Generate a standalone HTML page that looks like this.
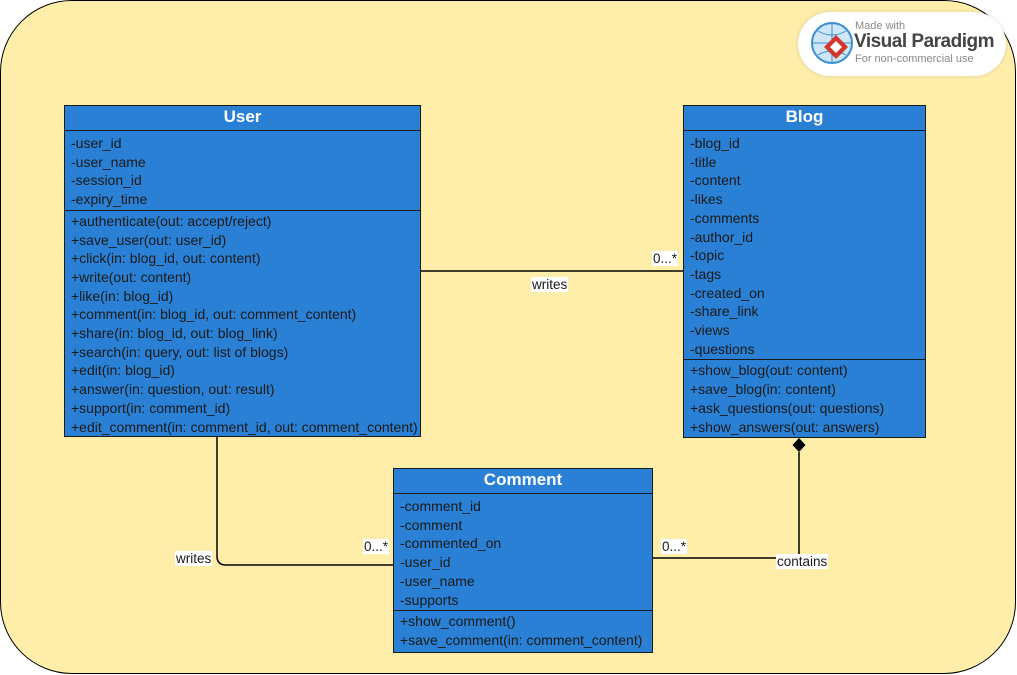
<!DOCTYPE html>
<html><head><meta charset="utf-8"><style>
*{margin:0;padding:0;box-sizing:border-box}
body{width:1017px;height:675px;background:#fff;position:relative;overflow:hidden;font-family:"Liberation Sans",Arial,sans-serif}
.bg{position:absolute;left:0;top:0;width:1016px;height:674px;background:#FFEEAA;border:1px solid #000;border-radius:72px}
.cls{position:absolute;background:#2A80D5;border:1px solid #1a1a1a;color:#1a1a1a;font-size:14px}
.cls .t{height:25px;border-bottom:1px solid #1a1a1a;color:#fff;font-weight:bold;font-size:17px;text-align:center;line-height:22px}
.cls .s{padding:3px 0 0 6px;line-height:18.7px}
.cls .d{border-top:1px solid #1a1a1a;padding-top:1px}
.lbl{position:absolute;background:#fff;font-size:13.5px;color:#1a1a1a;line-height:15px;padding:0 1px}
.badge{position:absolute;left:798px;top:12px;width:208px;height:64px;background:#fff;border-radius:32px;box-shadow:0 0 4px rgba(0,0,0,.15)}
</style></head><body>
<div class="bg"></div>
<div class="badge">
<svg style="position:absolute;left:12px;top:9px" width="46" height="46"><circle cx="22" cy="22" r="20" fill="#cfe6f7" stroke="#3a8fd0" stroke-width="2"/><path d="M2 22h40M22 2v40M8 10q14 8 28 0M8 34q14-8 28 0" stroke="#3a8fd0" fill="none"/><path d="M26 14l12 12-12 12-12-12z" fill="#d2352b"/><path d="M26 20l6 6-6 6-6-6z" fill="#fff"/></svg>
<div style="position:absolute;left:57px;top:8px;font-size:11px;color:#888">Made with</div>
<div style="position:absolute;left:56px;top:19px;font-size:19px;font-weight:bold;color:#444;letter-spacing:-0.5px">Visual Paradigm</div>
<div style="position:absolute;left:57px;top:41px;font-size:11px;color:#888">For non-commercial use</div>
</div>
<svg style="position:absolute;left:0;top:0" width="1017" height="675">
<g stroke="#000" stroke-width="1.5" fill="none">
<path d="M420 271H683"/>
<path d="M217 436V556q0 9 9 9H393"/>
<path d="M652 558H799V452"/>
</g>
<path d="M799 438l6.5 7-6.5 7-6.5-7z" fill="#000"/>
</svg>
<div class="cls" style="left:64px;top:105px;width:357px;height:332px">
<div class="t">User</div>
<div class="s">-user_id<br>-user_name<br>-session_id<br>-expiry_time</div>
<div class="s d" style="margin-top:1px">+authenticate(out: accept/reject)<br>+save_user(out: user_id)<br>+click(in: blog_id, out: content)<br>+write(out: content)<br>+like(in: blog_id)<br>+comment(in: blog_id, out: comment_content)<br>+share(in: blog_id, out: blog_link)<br>+search(in: query, out: list of blogs)<br>+edit(in: blog_id)<br>+answer(in: question, out: result)<br>+support(in: comment_id)<br>+edit_comment(in: comment_id, out: comment_content)</div>
</div>
<div class="cls" style="left:683px;top:105px;width:243px;height:333px">
<div class="t">Blog</div>
<div class="s">-blog_id<br>-title<br>-content<br>-likes<br>-comments<br>-author_id<br>-topic<br>-tags<br>-created_on<br>-share_link<br>-views<br>-questions</div>
<div class="s d" style="margin-top:1px">+show_blog(out: content)<br>+save_blog(in: content)<br>+ask_questions(out: questions)<br>+show_answers(out: answers)</div>
</div>
<div class="cls" style="left:393px;top:468px;width:260px;height:185px">
<div class="t">Comment</div>
<div class="s">-comment_id<br>-comment<br>-commented_on<br>-user_id<br>-user_name<br>-supports</div>
<div class="s d" style="margin-top:1px">+show_comment()<br>+save_comment(in: comment_content)</div>
</div>
<div class="lbl" style="left:531px;top:277px">writes</div>
<div class="lbl" style="left:652px;top:251px">0...*</div>
<div class="lbl" style="left:175px;top:551px">writes</div>
<div class="lbl" style="left:363px;top:539px">0...*</div>
<div class="lbl" style="left:661px;top:539px">0...*</div>
<div class="lbl" style="left:776px;top:554px">contains</div>
</body></html>
